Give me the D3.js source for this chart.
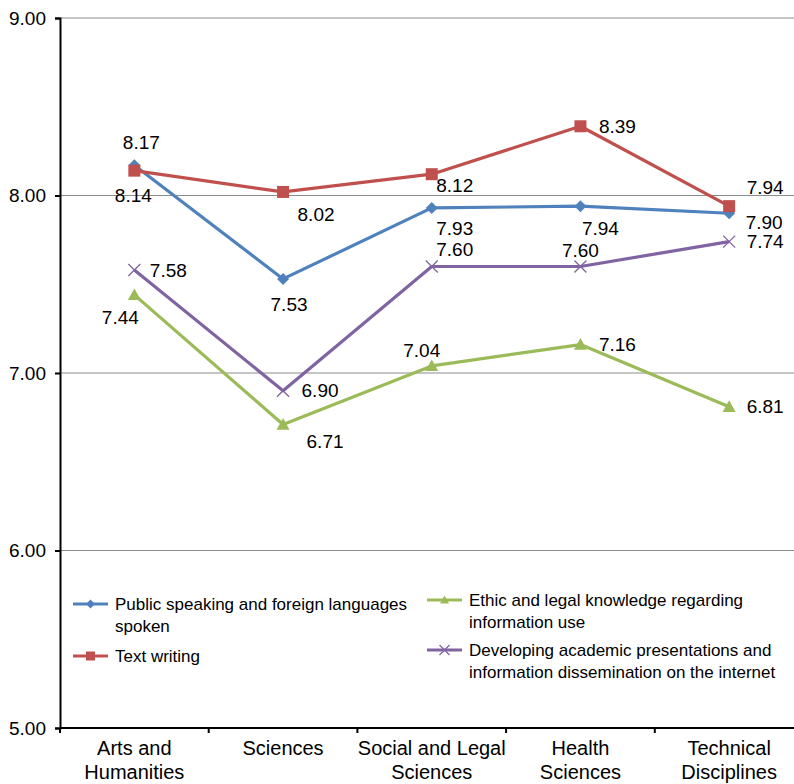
<!DOCTYPE html>
<html><head><meta charset="utf-8">
<script src="https://cdn.jsdelivr.net/npm/d3@7"></script>
<style>body{margin:0;background:#fff}svg{display:block;font-family:"Liberation Sans",Arial,Helvetica,sans-serif}</style>
</head><body><svg id="c" width="794" height="784"></svg>
<script>
const categories = [["Arts and","Humanities"],["Sciences"],["Social and Legal","Sciences"],["Health","Sciences"],["Technical","Disciplines"]];
const seriesNames = [
  ["Public speaking and foreign languages","spoken"],
  ["Text writing"],
  ["Ethic and legal knowledge regarding","information use"],
  ["Developing academic presentations and","information dissemination on the internet"]
];
const publicSpeaking = [8.17, 7.53, 7.93, 7.94, 7.90];
const textWriting = [8.14, 8.02, 8.12, 8.39, 7.94];
const ethicLegal = [7.44, 6.71, 7.04, 7.16, 6.81];
const developing = [7.58, 6.90, 7.60, 7.60, 7.74];
const yTicks = [5, 6, 7, 8, 9];

// styling / label placement (not data)
const colors = ["#4F81BD", "#C0504D", "#9BBB59", "#8064A2"];
const markers = ["diamond", "square", "triangle", "cross"];
const labelOffsets = [
  [[7,-23],[6,25],[23,20],[20,22],[35,9]],
  [[-1,25],[33,22],[23,11],[37,0],[36,-19]],
  [[-14,22],[42,17],[-10,-16],[37,0],[36,0]],
  [[34,0],[37,0],[23,-17],[0,-16],[36,0]]
];
const allSeries = [publicSpeaking, textWriting, ethicLegal, developing];

const svg = d3.select("#c");
const x0 = 60, x1 = 803.5, yTop = 18, yBot = 728;
const x = d3.scalePoint().domain(d3.range(categories.length)).range([x0, x1]).padding(0.5);
const y = d3.scaleLinear().domain([5, 9]).range([yBot, yTop]);
const step = x.step();

// gridlines
svg.append("g").selectAll("line").data(yTicks.filter(t => t > 5)).join("line")
  .attr("x1", x0).attr("x2", 794).attr("y1", d => y(d)).attr("y2", d => y(d))
  .attr("stroke", "#8c8c8c").attr("stroke-width", 1);

// y axis
const yAxis = d3.axisLeft(y).tickValues(yTicks).tickFormat(d3.format(".2f")).tickSize(5).tickPadding(9);
const yg = svg.append("g").attr("transform", `translate(${x0},0)`).call(yAxis);
yg.select(".domain").attr("stroke", "#000").attr("stroke-width", 2);
yg.selectAll(".tick line").attr("stroke", "#000").attr("stroke-width", 2);
yg.selectAll(".tick text").attr("font-size", 19).attr("fill", "#000").attr("font-family", "Liberation Sans, Arial, sans-serif");

// x axis
const xb = d3.scaleLinear().domain([0, categories.length]).range([x0, x0 + step * categories.length]);
svg.append("line").attr("x1", x0).attr("x2", 794).attr("y1", yBot).attr("y2", yBot).attr("stroke", "#000").attr("stroke-width", 2);
svg.append("g").selectAll("line").data(d3.range(categories.length + 1)).join("line")
  .attr("x1", d => xb(d)).attr("x2", d => xb(d)).attr("y1", yBot).attr("y2", yBot + 5)
  .attr("stroke", "#000").attr("stroke-width", 2);
const xl = svg.append("g").selectAll("text").data(categories).join("text")
  .attr("x", (d, i) => x(i)).attr("y", 755).attr("text-anchor", "middle")
  .attr("font-size", 20).attr("fill", "#000");
xl.selectAll("tspan").data(d => d).join("tspan")
  .attr("x", function() { return this.parentNode.getAttribute("x"); })
  .attr("dy", (d, i) => i === 0 ? 0 : 24).text(d => d);

function drawMarker(g, type, cx, cy, color, s) {
  if (type === "diamond") {
    g.append("path").attr("d", `M${cx},${cy-s}L${cx+s},${cy}L${cx},${cy+s}L${cx-s},${cy}Z`).attr("fill", color);
  } else if (type === "square") {
    g.append("rect").attr("x", cx - s).attr("y", cy - s).attr("width", 2*s).attr("height", 2*s).attr("fill", color);
  } else if (type === "triangle") {
    g.append("path").attr("d", `M${cx},${cy-s}L${cx+s},${cy+s*0.8}L${cx-s},${cy+s*0.8}Z`).attr("fill", color);
  } else {
    g.append("path").attr("d", `M${cx-s},${cy-s}L${cx+s},${cy+s}M${cx-s},${cy+s}L${cx+s},${cy-s}`).attr("stroke", color).attr("stroke-width", 1.3).attr("fill", "none");
  }
}
const markerSize = [6, 6, 6.5, 6];

const line = d3.line().x((d, i) => x(i)).y(d => y(d));
allSeries.forEach((vals, si) => {
  const g = svg.append("g");
  g.append("path").datum(vals).attr("d", line).attr("fill", "none")
    .attr("stroke", colors[si]).attr("stroke-width", 3.2).attr("stroke-linejoin", "round");
  vals.forEach((v, i) => drawMarker(g, markers[si], x(i), y(v), colors[si], markerSize[si]));
});
allSeries.forEach((vals, si) => {
  svg.append("g").selectAll("text").data(vals).join("text")
    .attr("x", (d, i) => x(i) + labelOffsets[si][i][0])
    .attr("y", (d, i) => y(d) + labelOffsets[si][i][1])
    .attr("dy", "0.35em").attr("text-anchor", "middle")
    .attr("font-size", 19).attr("fill", "#000")
    .text(d => d3.format(".2f")(d));
});

// legend
const legendPos = [[73, 604], [73, 656], [427, 600], [427, 650]];
seriesNames.forEach((nm, si) => {
  const [lx, ly] = legendPos[si];
  const g = svg.append("g");
  g.append("line").attr("x1", lx).attr("x2", lx + 35).attr("y1", ly).attr("y2", ly)
    .attr("stroke", colors[si]).attr("stroke-width", 3.2);
  drawMarker(g, markers[si], lx + 17.5, ly, colors[si], si === 3 ? 5 : 4.5);
  const t = g.append("text").attr("x", lx + 42).attr("y", ly + 6).attr("font-size", 17).attr("fill", "#000");
  nm.forEach((s, k) => t.append("tspan").attr("x", lx + 42).attr("dy", k === 0 ? 0 : 21.5).text(s));
});
</script></body></html>
